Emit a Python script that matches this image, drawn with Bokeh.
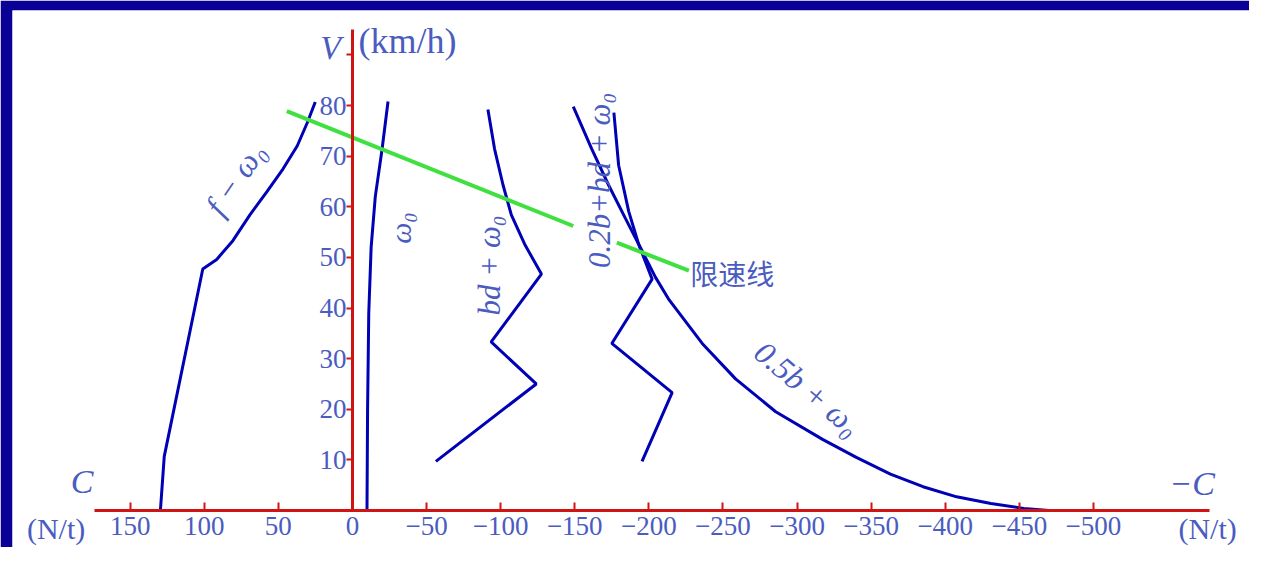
import math
from bokeh.plotting import figure
from bokeh.models import Range1d, LinearAxis, FixedTicker
from bokeh.core.properties import value
from bokeh.embed import file_html
from bokeh.resources import INLINE

# ---- data (C in N/t, V in km/h) ----
x_ticks = [150, 100, 50, 0, -50, -100, -150, -200, -250, -300, -350, -400, -450, -500]
y_ticks = [10, 20, 30, 40, 50, 60, 70, 80, 90]

f_omega_C = [129.6, 127.0, 101.0, 91.6, 80.7, 69.2, 57.7, 46.8, 37.3, 30.5, 25.1]
f_omega_V = [0.0, 10.7, 47.7, 49.6, 53.3, 58.4, 63.0, 67.5, 72.0, 76.6, 80.7]

omega0_C = [-9.8, -10.2, -11.0, -12.6, -15.4, -20.0, -24.0]
omega0_V = [0.0, 20.0, 39.0, 52.0, 62.0, 71.4, 80.8]

bd_C = [-56.3, -124.0, -93.6, -127.5, -116.2, -107.2, -101.6, -95.9, -91.4]
bd_V = [9.7, 25.0, 33.3, 46.7, 52.6, 58.4, 64.3, 71.4, 79.2]

b02_C = [-195.4, -215.7, -175.0, -202.2, -193.1, -186.4, -179.6, -176.4]
b02_V = [9.7, 23.3, 33.0, 45.7, 52.6, 59.1, 68.2, 78.6]

b05_C = [-149.0, -161.5, -172.8, -184.0, -195.4, -204.4, -213.7, -236.0, -258.5,
         -285.6, -317.5, -340.0, -363.0, -385.0, -407.7, -430.8, -453.0, -470.0]
b05_V = [79.8, 71.4, 64.3, 57.8, 51.3, 46.1, 41.6, 33.0, 26.0,
         19.5, 14.0, 10.5, 7.2, 4.7, 2.7, 1.4, 0.4, 0.0]

limit1_C = [44.3, -149.0]
limit1_V = [78.9, 56.2]
limit2_C = [-178.4, -227.0]
limit2_V = [52.9, 47.4]

BLUE = "#0000b4"
RED = "#d01414"
GREEN = "#3fe03f"
TXT = "#4a5cc0"
NAVY = "#0a0096"
SERIF = "Liberation Serif"

p = figure(width=1249, height=547,
           x_range=Range1d(229.4, -605.3), y_range=Range1d(-7.31, 98.77),
           x_axis_location=None, y_axis_location=None,
           min_border_left=12, min_border_top=10, min_border_right=0, min_border_bottom=0,
           border_fill_color=NAVY, background_fill_color="white",
           outline_line_color=None, toolbar_location=None, output_backend="svg")
p.grid.visible = False

xaxis = LinearAxis(fixed_location=0, bounds=(-578, 174),
                   ticker=FixedTicker(ticks=x_ticks))
yaxis = LinearAxis(fixed_location=0, bounds=(0, 95),
                   ticker=FixedTicker(ticks=y_ticks),
                   major_label_overrides={90: ""})
for ax in (xaxis, yaxis):
    ax.axis_line_color = RED
    ax.axis_line_width = 3
    ax.major_tick_line_color = RED
    ax.major_tick_line_width = 2
    ax.minor_tick_line_color = None
    ax.major_label_text_color = TXT
    ax.major_label_text_font = SERIF
    ax.major_label_text_font_size = "27px"
xaxis.major_tick_in = 8
xaxis.major_tick_out = 0
xaxis.major_label_standoff = 7
yaxis.major_tick_in = 0
yaxis.major_tick_out = 6
yaxis.major_label_standoff = 0
p.add_layout(xaxis, "below")
p.add_layout(yaxis, "left")

for cs, vs in [(f_omega_C, f_omega_V), (omega0_C, omega0_V), (bd_C, bd_V),
               (b02_C, b02_V), (b05_C, b05_V)]:
    p.line(cs, vs, line_color=BLUE, line_width=3)
for cs, vs in [(limit1_C, limit1_V), (limit2_C, limit2_V)]:
    p.line(cs, vs, line_color=GREEN, line_width=4)


def label(x, y, t, size, angle=0.0, style="normal", font=SERIF, align="center"):
    p.text(x=[x], y=[y], text=[t], angle=angle, text_color=TXT,
           text_font=value(font), text_font_size=size, text_font_style=style,
           text_align=align, text_baseline="middle")


label(14.8, 91.4, "V", "34px", style="italic")
label(-4.0, 92.8, "(km/h)", "36px", align="left")
label(182.5, 5.8, "C", "34px", style="italic")
label(-566.5, 5.4, "\u2212C", "34px", style="italic")
label(200.0, -3.5, "(N/t)", "30px")
label(-577.0, -3.5, "(N/t)", "30px")
label(-228.0, 46.9, "限速线", "28px", font="Noto Sans CJK SC", align="left")
label(79.0, 65.5, "f \u2212 \u03c9\u2080", "32px", angle=math.radians(56), style="italic")
label(-32.6, 55.8, "\u03c9\u2080", "30px", angle=math.pi / 2, style="italic")
label(-92.3, 48.4, "bd + \u03c9\u2080", "31px", angle=math.pi / 2, style="italic")
label(-166.9, 65.2, "0.2b+bd + \u03c9\u2080", "31px", angle=math.pi / 2, style="italic")
label(-307.3, 24.1, "0.5b + \u03c9\u2080", "32px", angle=math.radians(-40), style="italic")

open("out.html", "w").write(file_html(p, INLINE))
